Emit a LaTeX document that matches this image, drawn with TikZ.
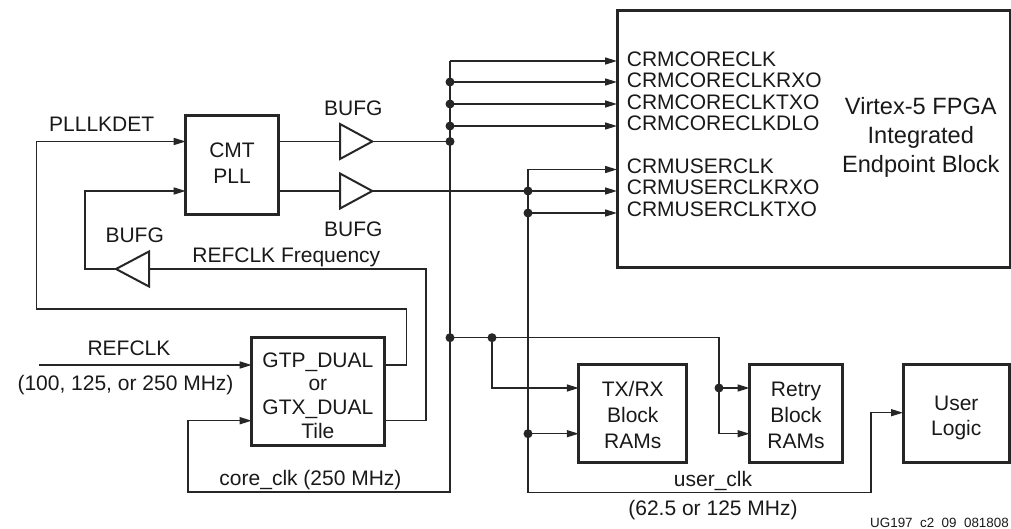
\documentclass[tikz,border=0pt]{standalone}
\usepackage{fontspec}
\setmainfont{Liberation Sans}
\usetikzlibrary{arrows.meta,calc}
\newcommand{\topgap}[1]{\rule{0pt}{#1pt}}
\begin{document}
\begin{tikzpicture}[x=1pt,y=-1pt,
  wire/.style={line width=1.5pt, draw=black!85},
  arr/.style={wire, -{Triangle[length=12pt,width=7pt]}},
  blk/.style={draw=black!85, line width=3pt, inner sep=0pt, outer sep=0pt, align=center, text=black!90},
  lbl/.style={font=\fontsize{21}{25}\selectfont, inner sep=0pt, anchor=base, text=black!90},
  pin/.style={font=\fontsize{21}{25}\selectfont, inner sep=0pt, anchor=base west, text=black!90},
  dot/.style={circle, fill=black!85, inner sep=0pt, minimum size=9pt},
  buf/.style={draw=black!85, line width=2pt, line join=miter}
]
\useasboundingbox (0,0) rectangle (1011,529);

% blocks
\node[blk, minimum width=393pt, minimum height=256pt] (fpga) at (813.5,139) {};
\node[blk, minimum width=92.6pt, minimum height=98.6pt, font=\fontsize{21}{26}\selectfont] (cmt) at (232,165) {CMT\\PLL\rule[-4.6pt]{0pt}{4.6pt}};
\node[blk, minimum width=132.3pt, minimum height=108.7pt, font=\fontsize{21}{23.8}\selectfont] (gtp) at (317.85,391.35) {\topgap{23}GTP\_DUAL\\or\\GTX\_DUAL\\Tile};
\node[blk, minimum width=108pt, minimum height=98pt, font=\fontsize{21}{26}\selectfont] (txrx) at (632.8,413.3) {\topgap{19}TX/RX\\Block\\RAMs};
\node[blk, minimum width=93pt, minimum height=98pt, font=\fontsize{21}{26}\selectfont] (retry) at (796,413.3) {\topgap{19}Retry\\Block\\RAMs};
\node[blk, minimum width=106.5pt, minimum height=98pt, font=\fontsize{21}{25.5}\selectfont] (user) at (956.25,413.3) {\topgap{24}User\\Logic};

% FPGA texts
\node[inner sep=0pt, align=center, text=black!90, font=\fontsize{23.6}{28.6}\selectfont] (fpgatxt) at (920.8,137.3) {Virtex-5 FPGA\\Integrated\\Endpoint Block};
\node[pin] (p1) at (626.7,66.7) {CRMCORECLK};
\node[pin] (p2) at (626.7,87.6) {CRMCORECLKRXO};
\node[pin] (p3) at (626.7,109.3) {CRMCORECLKTXO};
\node[pin] (p4) at (626.7,130.8) {CRMCORECLKDLO};
\node[pin] (p5) at (626.7,173.6) {CRMUSERCLK};
\node[pin] (p6) at (626.7,194.8) {CRMUSERCLKRXO};
\node[pin] (p7) at (626.7,216.2) {CRMUSERCLKTXO};

% coordinates
\coordinate (cbTop) at (450,61);
\coordinate (cb2) at (450,82);
\coordinate (cb3) at (450,104);
\coordinate (cb4) at (450,126);
\coordinate (cbIn) at (450,141.5);
\coordinate (cbLow) at (450,337.7);
\coordinate (cbBot) at (450,492);
\coordinate (ccc) at (188,420.7);

\coordinate (ubTop) at (528,169.5);
\coordinate (ubIn) at (528,191);
\coordinate (ub3) at (528,213);
\coordinate (ubTx) at (528,433.7);
\coordinate (ubBot) at (528,492.5);
\coordinate (ulc) at (871,412.7);

\coordinate (tapA) at (492,337.7);
\coordinate (tapB) at (719,388);
\coordinate (rtLow) at (719,433.7);

\coordinate (b1in) at (340,141.5);
\coordinate (b1out) at (372.3,141.5);
\coordinate (b2in) at (340,191);
\coordinate (b2out) at (372.3,191);
\coordinate (b3in) at (149,269);
\coordinate (b3out) at (116,269);

\coordinate (refIn) at (39,365);
\coordinate (pkA) at (406.7,309);
\coordinate (pkB) at (36.7,141.5);
\coordinate (rfA) at (426,420.7);
\coordinate (rfB) at (85,191);

% buffers
\draw[buf] ($(b1in)+(0,-17.5)$) -- (b1out) -- ($(b1in)+(0,17.5)$) -- cycle;
\draw[buf] ($(b2in)+(0,-17.5)$) -- (b2out) -- ($(b2in)+(0,17.5)$) -- cycle;
\draw[buf] ($(b3in)+(0,-17.5)$) -- (b3out) -- ($(b3in)+(0,17.5)$) -- cycle;

% core clock bus
\draw[arr] (cbTop) -- (cbBot) -| (ccc) -- (ccc -| gtp.west);
\draw[arr] (cbTop) -- (cbTop -| fpga.west);
\draw[arr] (cb2) -- (cb2 -| fpga.west);
\draw[arr] (cb3) -- (cb3 -| fpga.west);
\draw[arr] (cb4) -- (cb4 -| fpga.west);
% user clock bus
\draw[arr] (ubTop) -- (ubBot) -| (ulc) -- (ulc -| user.west);
\draw[arr] (ubTop) -- (ubTop -| fpga.west);
\draw[arr] (ubIn) -- (ubIn -| fpga.west);
\draw[arr] (ub3) -- (ub3 -| fpga.west);

% CMT outputs through BUFGs
\draw[wire] (cmt.east |- b1in) -- (b1in);
\draw[wire] (b1out) -- (cbIn);
\draw[wire] (cmt.east |- b2in) -- (b2in);
\draw[wire] (b2out) -- (ubIn);

% RAM clocks
\draw[arr] (cbLow) -| (rtLow) -- (rtLow -| retry.west);
\draw[arr] (tapB) -- (tapB -| retry.west);
\draw[arr] (tapA) |- (tapB -| txrx.west);
\draw[arr] (ubTx) -- (ubTx -| txrx.west);

% GTP connections
\draw[arr] (refIn) -- (refIn -| gtp.west);
\draw[arr] (gtp.east |- refIn) -| (pkA) -| (pkB) -- (pkB -| cmt.west);
\draw[wire] (gtp.east |- rfA) -- (rfA) |- (b3in);
\draw[arr] (b3out) -| (rfB) -- (rfB -| cmt.west);

% junction dots
\foreach \c in {cb2,cb3,cb4,cbIn,cbLow,ubIn,ub3,ubTx,tapA,tapB}
  \node[dot] at (\c) {};

% labels
\node[lbl] (lb1) at (353.3,115.8) {BUFG};
\node[lbl] (lb2) at (353.3,236.7) {BUFG};
\node[lbl] (lb3) at (134.7,242.5) {BUFG};
\node[lbl] (lpll) at (101.7,131.5) {PLLLKDET};
\node[lbl] (lrf) at (286.3,262.5) {REFCLK Frequency};
\node[lbl] (lref) at (129,355.5) {REFCLK};
\node[lbl] (lrefm) at (125.5,390) {(100, 125, or 250 MHz)};
\node[lbl] (lcore) at (310.5,485) {core\_clk (250 MHz)};
\node[lbl] (luser) at (713,486.7) {user\_clk};
\node[lbl] (luserm) at (713,515) {(62.5 or 125 MHz)};
\node[inner sep=0pt, anchor=base east, text=black!90, font=\fontsize{13.4}{15}\selectfont] (ug) at (1009,527.8) {UG197\hspace{0.556em}c2\hspace{0.556em}09\hspace{0.556em}081808};
\end{tikzpicture}
\end{document}
